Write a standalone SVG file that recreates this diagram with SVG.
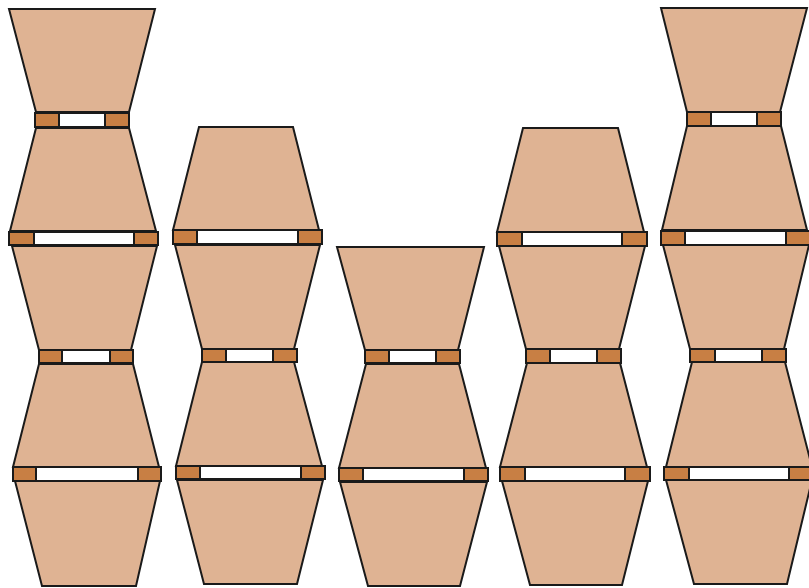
<svg xmlns="http://www.w3.org/2000/svg" width="809" height="588" viewBox="0 0 809 588">
<style>
.t{fill:#DFB393;stroke:#1a1a1a;stroke-width:2;stroke-linejoin:miter}
.b{fill:#ffffff;stroke:#1a1a1a;stroke-width:2}
.k{fill:#C87F44;stroke:#1a1a1a;stroke-width:2}
</style>
<rect width="809" height="588" fill="#ffffff"/>
<g id="column1">
<polygon class="t" points="9,9 155,9 129,112 36,112"/>
<polygon class="t" points="36,128 129,128 156,231 10,231"/>
<polygon class="t" points="12,246 157,246 131,350 39,350"/>
<polygon class="t" points="39,364 133,364 159,467 13,467"/>
<polygon class="t" points="15,481 160,481 136,586 42,586"/>
<rect class="b" x="35" y="113" width="94" height="14"/><rect class="k" x="35" y="113" width="24" height="14"/><rect class="k" x="105" y="113" width="24" height="14"/>
<rect class="b" x="9" y="232" width="149" height="13"/><rect class="k" x="9" y="232" width="25" height="13"/><rect class="k" x="134" y="232" width="24" height="13"/>
<rect class="b" x="39" y="350" width="94" height="13"/><rect class="k" x="39" y="350" width="23" height="13"/><rect class="k" x="110" y="350" width="23" height="13"/>
<rect class="b" x="13" y="467" width="148" height="14"/><rect class="k" x="13" y="467" width="23" height="14"/><rect class="k" x="138" y="467" width="23" height="14"/>
</g>
<g id="column2">
<polygon class="t" points="199,127 293,127 319,230 173,230"/>
<polygon class="t" points="175,245 320,245 294,349 202,349"/>
<polygon class="t" points="202,362 294,362 322,466 176,466"/>
<polygon class="t" points="177,480 323,480 297,584 204,584"/>
<rect class="b" x="173" y="230" width="149" height="14"/><rect class="k" x="173" y="230" width="24" height="14"/><rect class="k" x="298" y="230" width="24" height="14"/>
<rect class="b" x="202" y="349" width="95" height="13"/><rect class="k" x="202" y="349" width="24" height="13"/><rect class="k" x="273" y="349" width="24" height="13"/>
<rect class="b" x="176" y="466" width="149" height="13"/><rect class="k" x="176" y="466" width="24" height="13"/><rect class="k" x="301" y="466" width="24" height="13"/>
</g>
<g id="column3">
<polygon class="t" points="337,247 484,247 458,350 365,350"/>
<polygon class="t" points="366,364 459,364 486,468 339,468"/>
<polygon class="t" points="340,482 487,482 460,586 368,586"/>
<rect class="b" x="365" y="350" width="95" height="13"/><rect class="k" x="365" y="350" width="24" height="13"/><rect class="k" x="436" y="350" width="24" height="13"/>
<rect class="b" x="339" y="468" width="149" height="13"/><rect class="k" x="339" y="468" width="24" height="13"/><rect class="k" x="464" y="468" width="24" height="13"/>
</g>
<g id="column4">
<polygon class="t" points="523,128 618,128 644,232 497,232"/>
<polygon class="t" points="499,246 645,246 619,349 526,349"/>
<polygon class="t" points="527,363 620,363 647,467 500,467"/>
<polygon class="t" points="502,481 648,481 622,585 530,585"/>
<rect class="b" x="497" y="232" width="150" height="14"/><rect class="k" x="497" y="232" width="25" height="14"/><rect class="k" x="622" y="232" width="25" height="14"/>
<rect class="b" x="526" y="349" width="95" height="14"/><rect class="k" x="526" y="349" width="24" height="14"/><rect class="k" x="597" y="349" width="24" height="14"/>
<rect class="b" x="500" y="467" width="150" height="14"/><rect class="k" x="500" y="467" width="25" height="14"/><rect class="k" x="625" y="467" width="25" height="14"/>
</g>
<g id="column5">
<polygon class="t" points="661,8 807,8 780,112 687,112"/>
<polygon class="t" points="687,126 781,126 807,230 662,230"/>
<polygon class="t" points="663,245 809,245 784,349 690,349"/>
<polygon class="t" points="692,362 785,362 812,467 666,467"/>
<polygon class="t" points="666,480 812,480 787,584 694,584"/>
<rect class="b" x="687" y="112" width="94" height="14"/><rect class="k" x="687" y="112" width="24" height="14"/><rect class="k" x="757" y="112" width="24" height="14"/>
<rect class="b" x="661" y="231" width="150" height="14"/><rect class="k" x="661" y="231" width="24" height="14"/><rect class="k" x="786" y="231" width="25" height="14"/>
<rect class="b" x="690" y="349" width="96" height="13"/><rect class="k" x="690" y="349" width="25" height="13"/><rect class="k" x="762" y="349" width="24" height="13"/>
<rect class="b" x="664" y="467" width="150" height="13"/><rect class="k" x="664" y="467" width="25" height="13"/><rect class="k" x="789" y="467" width="25" height="13"/>
</g>
</svg>
